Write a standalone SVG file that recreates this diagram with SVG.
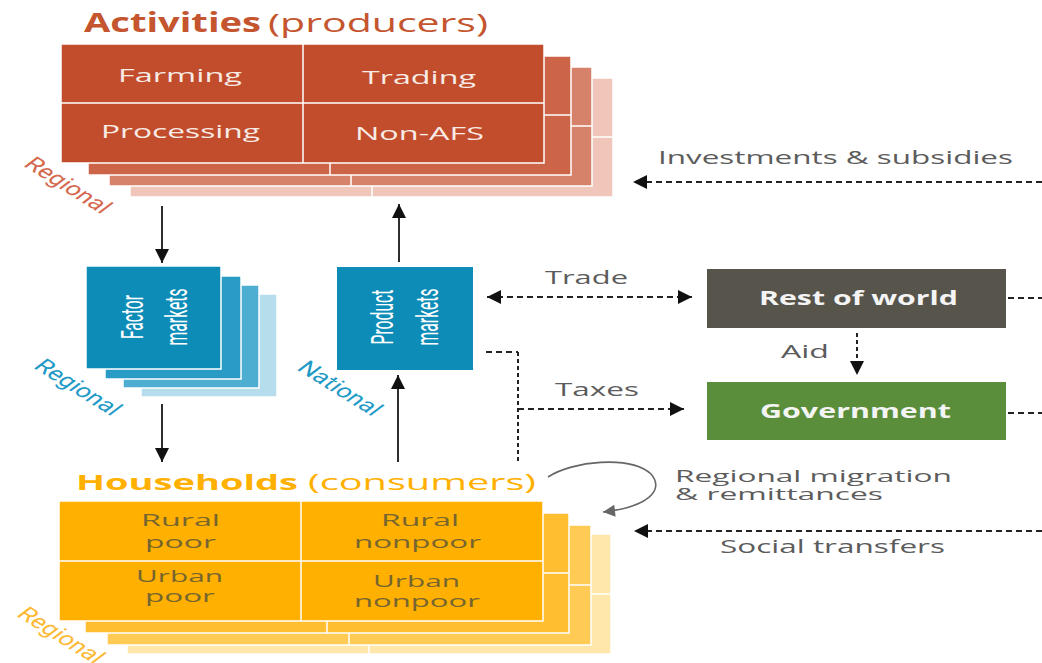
<svg xmlns="http://www.w3.org/2000/svg" xmlns:xlink="http://www.w3.org/1999/xlink" width="1042" height="663" viewBox="0 0 1042 663">
<style>
  .grid { stroke:#ffffff; stroke-width:1.5; }
  .cellA { font-family:"Open Sans", "DejaVu Sans", sans-serif; font-size:19px; fill:#f8ebe6; }
  .cellH { font-family:"Open Sans", "DejaVu Sans", sans-serif; font-size:17px; fill:#76652f; }
  .lbl { font-family:"Open Sans", "DejaVu Sans", sans-serif; font-size:18px; fill:#5c5c5c; }
  .lbl2 { font-family:"Open Sans", "DejaVu Sans", sans-serif; font-size:16px; fill:#5c5c5c; }
  .box { font-family:"Open Sans", "DejaVu Sans", sans-serif; font-size:20px; font-weight:bold; fill:#f4f4f4; }
  .mk { font-family:Roboto, "Liberation Sans", sans-serif; font-size:20px; fill:#ffffff; }
  .rot { font-family:Roboto, "Liberation Sans", sans-serif; font-size:19px; }
  .solid { stroke:#2e2e2e; stroke-width:2; fill:none; }
  .dash { stroke:#222; stroke-width:2; fill:none; stroke-dasharray:6 4; }
  .dot { stroke:#222; stroke-width:2; fill:none; stroke-dasharray:4 3; }
</style>
<defs>
  <marker id="ah" markerUnits="userSpaceOnUse" markerWidth="14" markerHeight="14" viewBox="0 0 10 10" refX="10" refY="5" orient="auto-start-reverse">
    <path d="M0,0 L10,5 L0,10 z" fill="#111"/>
  </marker>
  <marker id="ahg" markerUnits="userSpaceOnUse" markerWidth="14" markerHeight="12" viewBox="0 0 10 10" refX="10" refY="5" orient="auto">
    <path d="M0,0 L10,5 L0,10 z" fill="#666"/>
  </marker>
  <g id="gridA">
    <rect x="0" y="0" width="483" height="119" class="grid"/>
    <line x1="242" y1="0" x2="242" y2="119" class="grid"/>
    <line x1="0" y1="59" x2="483" y2="59" class="grid"/>
  </g>
  <g id="gridH">
    <rect x="0" y="0" width="484" height="120" class="grid"/>
    <line x1="242" y1="0" x2="242" y2="120" class="grid"/>
    <line x1="0" y1="60" x2="484" y2="60" class="grid"/>
  </g>
  <rect id="mkt" x="0" y="0" width="136" height="103" class="grid"/>
</defs>

<!-- Activities -->
<g id="activities">
  <text x="84" y="32" font-family="'Open Sans', 'DejaVu Sans', sans-serif" font-size="26" font-weight="bold" fill="#c4552e" textLength="177" lengthAdjust="spacingAndGlyphs">Activities</text>
  <text x="268" y="32" font-family="'Open Sans', 'DejaVu Sans', sans-serif" font-size="26" fill="#c4552e" textLength="220" lengthAdjust="spacingAndGlyphs">(producers)</text>
  <use xlink:href="#gridA" x="130" y="78" fill="#efc6b9"/>
  <use xlink:href="#gridA" x="109" y="67" fill="#d6826b"/>
  <use xlink:href="#gridA" x="88" y="56" fill="#cc6448"/>
  <use xlink:href="#gridA" x="61" y="44" fill="#c24d2c"/>
  <text class="cellA" x="118" y="82" textLength="124" lengthAdjust="spacingAndGlyphs">Farming</text>
  <text class="cellA" x="362" y="84" textLength="114" lengthAdjust="spacingAndGlyphs">Trading</text>
  <text class="cellA" x="101" y="138" textLength="159" lengthAdjust="spacingAndGlyphs">Processing</text>
  <text class="cellA" x="355" y="140" textLength="129" lengthAdjust="spacingAndGlyphs">Non-AFS</text>
  <text class="rot" fill="#d4694f" text-anchor="middle" transform="translate(62,190) scale(1.45,1) rotate(42)">Regional</text>
</g>

<!-- Factor markets -->
<g id="factor-markets">
  <use xlink:href="#mkt" x="141" y="294" fill="#b5ddec"/>
  <use xlink:href="#mkt" x="123" y="285" fill="#4eaed1"/>
  <use xlink:href="#mkt" x="105" y="276" fill="#2a9bc4"/>
  <rect x="86" y="266" width="135" height="103" fill="#0e8cb8" class="grid"/>
  <text class="mk" text-anchor="middle" textLength="44" lengthAdjust="spacingAndGlyphs" transform="translate(143,317) scale(1.6,1) rotate(-90)">Factor</text>
  <text class="mk" text-anchor="middle" textLength="57" lengthAdjust="spacingAndGlyphs" transform="translate(187,317) scale(1.6,1) rotate(-90)">markets</text>
  <text class="rot" fill="#1f9ac6" text-anchor="middle" transform="translate(72,392) scale(1.45,1) rotate(42)">Regional</text>
</g>

<!-- Product markets -->
<g id="product-markets">
  <rect x="337" y="267" width="136" height="103" fill="#0e8cb8"/>
  <text class="mk" text-anchor="middle" textLength="55" lengthAdjust="spacingAndGlyphs" transform="translate(393,317) scale(1.6,1) rotate(-90)">Product</text>
  <text class="mk" text-anchor="middle" textLength="57" lengthAdjust="spacingAndGlyphs" transform="translate(438,317) scale(1.6,1) rotate(-90)">markets</text>
  <text class="rot" fill="#1f9ac6" text-anchor="middle" transform="translate(334,393) scale(1.45,1) rotate(42)">National</text>
</g>

<!-- Rest of world -->
<g id="rest-of-world">
  <rect x="707" y="269" width="299" height="59" fill="#57554b"/>
  <text class="box" x="759" y="305" textLength="199" lengthAdjust="spacingAndGlyphs">Rest of world</text>
</g>

<!-- Government -->
<g id="government">
  <rect x="707" y="382" width="299" height="58" fill="#5b8e3a"/>
  <text class="box" x="760" y="418" textLength="191" lengthAdjust="spacingAndGlyphs">Government</text>
</g>

<!-- Households -->
<g id="households">
  <text x="76" y="490" font-family="'Open Sans', 'DejaVu Sans', sans-serif" font-size="22" font-weight="bold" fill="#ffb000" textLength="222" lengthAdjust="spacingAndGlyphs">Households</text>
  <text x="308" y="490" font-family="'Open Sans', 'DejaVu Sans', sans-serif" font-size="22" fill="#ffb000" textLength="228" lengthAdjust="spacingAndGlyphs">(consumers)</text>
  <use xlink:href="#gridH" x="127" y="534" fill="#ffe6ab"/>
  <use xlink:href="#gridH" x="107" y="525" fill="#ffcb55"/>
  <use xlink:href="#gridH" x="85" y="513" fill="#ffbe30"/>
  <use xlink:href="#gridH" x="59" y="501" fill="#ffb000"/>
  <text class="cellH" x="141" y="526" textLength="79" lengthAdjust="spacingAndGlyphs">Rural</text>
  <text class="cellH" x="145" y="548" textLength="71" lengthAdjust="spacingAndGlyphs">poor</text>
  <text class="cellH" x="381" y="526" textLength="78" lengthAdjust="spacingAndGlyphs">Rural</text>
  <text class="cellH" x="354" y="548" textLength="127" lengthAdjust="spacingAndGlyphs">nonpoor</text>
  <text class="cellH" x="136" y="582" textLength="87" lengthAdjust="spacingAndGlyphs">Urban</text>
  <text class="cellH" x="145" y="602" textLength="70" lengthAdjust="spacingAndGlyphs">poor</text>
  <text class="cellH" x="373" y="587" textLength="87" lengthAdjust="spacingAndGlyphs">Urban</text>
  <text class="cellH" x="354" y="607" textLength="126" lengthAdjust="spacingAndGlyphs">nonpoor</text>
  <text class="rot" fill="#fdb933" text-anchor="middle" transform="translate(55,640) scale(1.45,1) rotate(42)">Regional</text>
</g>

<!-- Connectors -->
<g id="connectors">
  <line class="solid" x1="162" y1="206" x2="162" y2="263" marker-end="url(#ah)"/>
  <line class="solid" x1="162" y1="404" x2="162" y2="462" marker-end="url(#ah)"/>
  <line class="solid" x1="399" y1="262" x2="399" y2="204" marker-end="url(#ah)"/>
  <line class="solid" x1="398" y1="462" x2="398" y2="375" marker-end="url(#ah)"/>

  <line class="dash" x1="487" y1="297" x2="692" y2="297" marker-start="url(#ah)" marker-end="url(#ah)"/>
  <line class="dash" x1="1008" y1="298" x2="1042" y2="298"/>
  <line class="dot" x1="857" y1="333" x2="857" y2="375" marker-end="url(#ah)"/>
  <polyline class="dash" points="486,352 518,352"/>
  <line class="dot" x1="518" y1="352" x2="518" y2="462"/>
  <line class="dash" x1="518" y1="409" x2="684" y2="409" marker-end="url(#ah)"/>
  <line class="dash" x1="1008" y1="413" x2="1042" y2="413"/>
  <line class="dash" x1="1042" y1="182" x2="633" y2="182" marker-end="url(#ah)"/>
  <line class="dash" x1="1042" y1="531" x2="634" y2="531" marker-end="url(#ah)"/>
  <path d="M548,477 C572,461 630,455 651,474 C665,490 648,507 603,512" stroke="#666" stroke-width="1.6" fill="none" marker-end="url(#ahg)"/>

  <text class="lbl" x="545" y="284" textLength="83" lengthAdjust="spacingAndGlyphs">Trade</text>
  <text class="lbl" x="781" y="358" textLength="48" lengthAdjust="spacingAndGlyphs">Aid</text>
  <text class="lbl" x="555" y="396" textLength="84" lengthAdjust="spacingAndGlyphs">Taxes</text>
  <text class="lbl" x="658" y="164" textLength="355" lengthAdjust="spacingAndGlyphs">Investments &amp; subsidies</text>
  <text class="lbl2" x="675" y="482" textLength="277" lengthAdjust="spacingAndGlyphs">Regional migration</text>
  <text class="lbl2" x="675" y="500" textLength="208" lengthAdjust="spacingAndGlyphs">&amp; remittances</text>
  <text class="lbl" x="720" y="553" textLength="225" lengthAdjust="spacingAndGlyphs">Social transfers</text>
</g>
</svg>
